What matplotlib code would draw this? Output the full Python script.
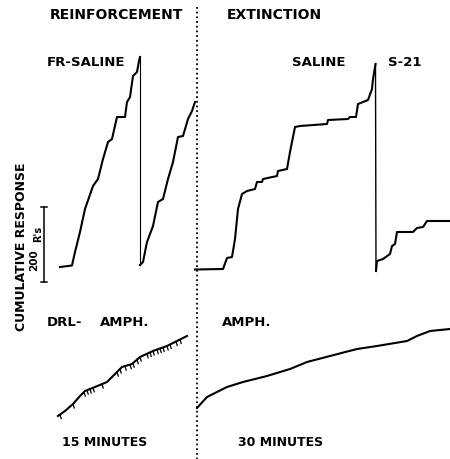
import numpy as np
import matplotlib.pyplot as plt

plt.rcParams['font.family'] = 'DejaVu Sans'

# cumulative records (x = time, y = pen position, page units)
fr_x = [60, 72, 75, 80, 85, 93, 98, 103, 108, 112, 117, 125, 127, 130, 133, 137, 139, 140]
fr_y = [268, 266.5, 253, 233, 210, 187, 180, 160, 143, 140, 118, 118, 103, 98, 77, 73, 62, 58]
fr2_x = [140, 143, 147, 153, 158, 163, 168, 173, 178, 183, 188, 192, 195]
fr2_y = [266, 263, 243, 227, 203, 200, 180, 163, 138, 137, 120, 112, 103]

sal_x = [195, 223, 227, 232, 235, 238, 242, 247, 255, 257, 262, 263, 277, 278, 287, 290,
         295, 300, 327, 328, 348, 350, 356, 358, 368, 372, 373, 375.5]
sal_y = [270.5, 270, 259, 258, 240, 210, 195, 192, 190, 183, 183, 180, 177, 172, 170, 153,
         128, 127, 125, 121, 120, 118, 118, 105, 101, 90, 80, 65]
sal2_x = [376, 377, 383, 390, 392, 395, 397, 413, 417, 423, 427, 450]
sal2_y = [272, 262, 260, 255, 247, 245, 233, 233, 229, 228, 222, 222]

drl_x = [58, 65, 73, 80, 85, 95, 107, 115, 122, 132, 140, 153, 167, 175, 187]
drl_y = [417, 412, 405, 397, 392, 388, 383, 375, 368, 365, 358, 352, 347, 343, 337]
drl_pips = [60, 73, 84, 87, 90, 93, 102, 117, 120, 125, 130, 133, 137, 140, 147, 150,
            153, 157, 160, 163, 167, 170, 176, 180]

amph_x = [197, 207, 227, 243, 267, 290, 307, 330, 357, 377, 407, 417, 430, 450]
amph_y = [409, 398, 388, 383, 377, 370, 363, 357, 350, 347, 342, 337, 332, 330]

fig = plt.figure(figsize=(4.5, 4.6), dpi=100)
ax = fig.add_axes([0, 0, 1, 1])
ax.set_xlim(0, 450)
ax.set_ylim(460, 0)
ax.axis('off')

lw = 1.5
ax.plot(fr_x, fr_y, 'k-', lw=lw)
ax.plot(fr2_x, fr2_y, 'k-', lw=lw)
ax.plot([fr_x[-1], fr2_x[0]], [fr_y[-1], fr2_y[0]], 'k-', lw=0.8)  # pen reset
ax.plot(sal_x, sal_y, 'k-', lw=lw)
ax.plot(sal2_x, sal2_y, 'k-', lw=lw)
ax.plot([sal_x[-1], sal2_x[0]], [sal_y[-1], sal2_y[0]], 'k-', lw=1.0)
ax.plot(drl_x, drl_y, 'k-', lw=lw)
ax.plot(amph_x, amph_y, 'k-', lw=lw)

# reinforcement pips on the DRL record
for px in drl_pips:
    py = np.interp(px, drl_x, drl_y)
    ax.plot([px, px + 1.2], [py, py + 4], 'k-', lw=0.9)

# phase divider
ax.plot([197, 197], [8, 460], color='k', lw=1.3, linestyle=(0, (1, 1.6)))

# scale bar
ax.plot([44, 44], [208, 283], 'k-', lw=1.1)
ax.plot([41, 47], [208, 208], 'k-', lw=1.1)
ax.plot([41, 47], [283, 283], 'k-', lw=1.1)

kw = dict(fontweight='bold', va='center', ha='left')
ax.text(50, 15, 'REINFORCEMENT', fontsize=10, **kw)
ax.text(227, 15, 'EXTINCTION', fontsize=10, **kw)
ax.text(47, 62, 'FR-SALINE', fontsize=9.5, **kw)
ax.text(292, 62, 'SALINE', fontsize=9.5, **kw)
ax.text(388, 62, 'S-21', fontsize=9.5, **kw)
ax.text(47, 323, 'DRL-', fontsize=9.5, **kw)
ax.text(100, 323, 'AMPH.', fontsize=9.5, **kw)
ax.text(222, 323, 'AMPH.', fontsize=9.5, **kw)
ax.text(62, 443, '15 MINUTES', fontsize=9, **kw)
ax.text(238, 443, '30 MINUTES', fontsize=9, **kw)
ax.text(22, 247, 'CUMULATIVE RESPONSE', rotation=90, ha='center', va='center',
        fontsize=9, fontweight='bold')
ax.text(34, 260, '200', rotation=90, ha='center', va='center', fontsize=7.5, fontweight='bold')
ax.text(38, 234, "R's", rotation=90, ha='center', va='center', fontsize=7, fontweight='bold')

fig.savefig('out.png', dpi=100)
